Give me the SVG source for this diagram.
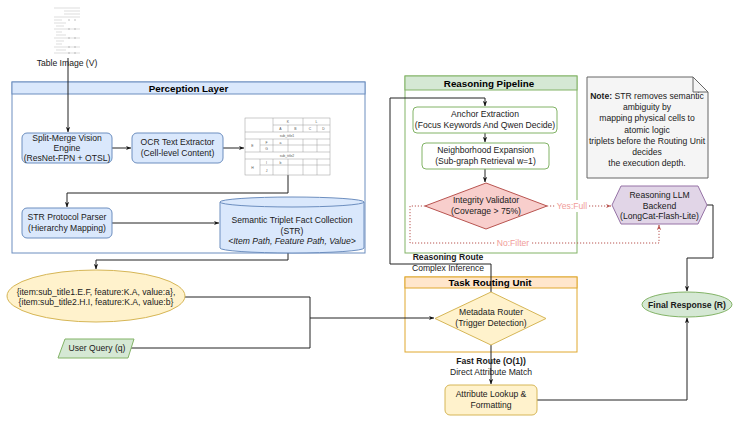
<svg xmlns="http://www.w3.org/2000/svg" width="739" height="422" viewBox="0 0 739 422">
<style>
.t{font-family:"Liberation Sans",Arial,sans-serif;font-size:8.6px;fill:#1a1a1a;text-anchor:middle}
.b{font-weight:bold}
.h{font-family:"Liberation Sans",Arial,sans-serif;font-size:9.8px;font-weight:bold;fill:#000;text-anchor:middle}
.i{font-style:italic}
.blue{fill:#dae8fc;stroke:#6c8ebf;stroke-width:1}
.green{fill:#d5e8d4;stroke:#82b366;stroke-width:1}
.gbox{fill:#fff;stroke:#82b366;stroke-width:1}
.yel{fill:#fff2cc;stroke:#d6b656;stroke-width:1}
.red{fill:#f8cecc;stroke:#b85450;stroke-width:1}
.pur{fill:#e1d5e7;stroke:#9673a6;stroke-width:1}
.c{fill:none;stroke:#222;stroke-width:1}
.cr{fill:none;stroke:#b85450;stroke-width:1;stroke-dasharray:1.2 1.8}
.lr{font-family:"Liberation Sans",Arial,sans-serif;font-size:8.6px;fill:#f19c99;text-anchor:middle}
.tb{fill:none;stroke:#999;stroke-width:0.5}
.tt{font-family:"Liberation Sans",Arial,sans-serif;font-size:3.4px;fill:#555;text-anchor:middle}
</style>
<defs>
<marker id="a" viewBox="0 0 10 10" refX="9.5" refY="5" markerWidth="5.5" markerHeight="5.5" orient="auto"><path d="M0,1 L10,5 L0,9 L3,5 Z" fill="#111"/></marker>
<marker id="ar" viewBox="0 0 10 10" refX="9.5" refY="5" markerWidth="5.5" markerHeight="5.5" orient="auto"><path d="M0,1 L10,5 L0,9 L3,5 Z" fill="#b85450"/></marker>
</defs>

<!-- containers -->
<g id="perception-layer">
<rect x="12" y="82" width="353" height="171" fill="#fff" stroke="#6c8ebf"/>
<rect x="12" y="82" width="353" height="12" fill="#dae8fc" stroke="#6c8ebf"/>
<text class="h" x="188.5" y="91.5">Perception Layer</text>
</g>
<g id="reasoning-pipeline">
<rect x="405" y="76" width="172" height="177" fill="#fff" stroke="#82b366"/>
<rect x="405" y="76" width="172" height="14" fill="#d5e8d4" stroke="#82b366"/>
<text class="h" x="489" y="86.5">Reasoning Pipeline</text>
</g>
<g id="task-routing-unit">
<rect x="405" y="277" width="172" height="75" fill="#fff" stroke="#e0a82e"/>
<rect x="405" y="277" width="172" height="11" fill="#ffe6cc" stroke="#e0a82e"/>
<text class="h" x="490" y="286">Task Routing Unit</text>
</g>

<!-- connectors -->
<g id="connectors">
<path class="c" d="M68,58 V132" marker-end="url(#a)"/>
<path class="c" d="M112,148 H131" marker-end="url(#a)"/>
<path class="c" d="M223,148 H244" marker-end="url(#a)"/>
<path class="c" d="M288,175 V193 H67 V207" marker-end="url(#a)"/>
<path class="c" d="M112,223 H219" marker-end="url(#a)"/>
<path class="c" d="M288,253 V260 H96 V269" marker-end="url(#a)"/>
<path class="c" d="M185,297 H310 V348 H131"/>
<path class="c" d="M310,318 H434" marker-end="url(#a)"/>
<path class="c" d="M491,292 V264 H390 V98 H485 V106" marker-end="url(#a)"/>
<path class="c" d="M485,133 V142" marker-end="url(#a)"/>
<path class="c" d="M485,169 V182" marker-end="url(#a)"/>
<path class="cr" d="M547,206 H611" marker-end="url(#ar)"/>
<path class="cr" d="M425,206 H410 V243 H659 V225" marker-end="url(#ar)"/>
<path class="c" d="M707,205 H713 V258 H687 V291" marker-end="url(#a)"/>
<path class="c" d="M537,400 H687 V318" marker-end="url(#a)"/>
<path class="c" d="M491,345 V384" marker-end="url(#a)"/>
<rect x="556" y="200" width="33" height="12" fill="#fff"/>
<text class="lr" x="572" y="209">Yes:Full</text>
<rect x="496" y="237" width="35" height="12" fill="#fff"/>
<text class="lr" x="513" y="246">No:Filter</text>
<text class="t b" x="448" y="260">Reasoning Route</text>
<text class="t" x="448" y="271">Complex Inference</text>
<text class="t b" x="491" y="364">Fast Route (O(1))</text>
<text class="t" x="491" y="375">Direct Attribute Match</text>
</g>

<!-- nodes -->
<g id="table-image-v">
<rect x="52" y="6" width="29" height="49" fill="#fff"/>
<g stroke="#c8c8c8" stroke-width="0.6">
<path d="M54,8 H80 M64,11 H80 M64,14 H80 M54,17 H80 M54,20 H62 M54,23 H66 M56,26 H64 M54,29 H80 M56,32 H62 M56,35 H66 M54,38 H80 M56,41 H64 M56,44 H62 M54,47 H80 M56,50 H66 M54,53 H80"/>
<path d="M68,20 H70 M74,20 H76 M68,29 H70 M74,29 H76 M68,38 H70 M74,38 H76 M68,47 H70 M74,47 H76 M68,53 H70 M74,53 H76" stroke="#999"/>
</g>
<text class="t" x="67" y="66">Table Image (V)</text>
</g>

<g id="split-merge">
<rect class="blue" x="22" y="133" width="90" height="30" rx="5"/>
<text class="t" x="67" y="140.5">Split-Merge Vision</text>
<text class="t" x="67" y="150.5">Engine</text>
<text class="t" x="67" y="160.5">(ResNet-FPN + OTSL)</text>
</g>
<g id="ocr">
<rect class="blue" x="132" y="133" width="91" height="30" rx="5"/>
<text class="t" x="177.5" y="145">OCR Text Extractor</text>
<text class="t" x="177.5" y="156">(Cell-level Content)</text>
</g>

<g id="table-grid">
<rect x="245" y="118" width="85" height="57" fill="#fff" stroke="#999" stroke-width="0.5"/>
<path class="tb" d="M273,125 H330 M245,132 H330 M245,139 H330 M260,145 H330 M245,152 H330 M245,159 H330 M260,165 H330"/>
<path class="tb" d="M273,118 V132 M273,139 V152 M273,159 V175 M288,125 V132 M288,139 V152 M288,159 V175 M303,118 V132 M303,139 V152 M303,159 V175 M317,125 V132 M317,139 V152 M317,159 V175 M260,139 V152 M260,159 V175"/>
<text class="tt" x="288" y="123">K</text>
<text class="tt" x="316.5" y="123">L</text>
<text class="tt" x="280.5" y="130">A</text>
<text class="tt" x="295.5" y="130">B</text>
<text class="tt" x="310" y="130">C</text>
<text class="tt" x="323.5" y="130">D</text>
<text class="tt" x="287" y="137">sub_title1</text>
<text class="tt" x="252.5" y="147">E</text>
<text class="tt" x="266.5" y="143.5">F</text>
<text class="tt" x="266.5" y="150">G</text>
<text class="tt" x="280.5" y="143.5">a</text>
<text class="tt" x="287" y="157">sub_title2</text>
<text class="tt" x="252.5" y="168.5">H</text>
<text class="tt" x="266.5" y="163.5">I</text>
<text class="tt" x="266.5" y="171.5">J</text>
<text class="tt" x="280.5" y="163.5">b</text>
</g>

<g id="str-parser">
<rect class="blue" x="22" y="208" width="90" height="30" rx="5"/>
<text class="t" x="67" y="220">STR Protocol Parser</text>
<text class="t" x="67" y="231">(Hierarchy Mapping)</text>
</g>

<g id="str-collection">
<path class="blue" d="M220,202 A72,5 0 0,1 364,202 V248 A72,5 0 0,1 220,248 Z"/>
<path d="M220,202 A72,5 0 0,0 364,202" fill="none" stroke="#6c8ebf"/>
<text class="t" x="292" y="223">Semantic Triplet Fact Collection</text>
<text class="t" x="292" y="233.5">(STR)</text>
<text class="t i" x="292" y="244">&lt;Item Path, Feature Path, Value&gt;</text>
</g>

<g id="triplets">
<ellipse class="yel" cx="96" cy="296" rx="89" ry="26"/>
<text class="t" x="96" y="294.5">{item:sub_title1.E.F, feature:K.A, value:a},</text>
<text class="t" x="96" y="305">{item:sub_title2.H.I, feature:K.A, value:b}</text>
</g>

<g id="user-query">
<polygon class="green" points="65,339 134,339 128,358 58,358"/>
<text class="t" x="97" y="351">User Query (q)</text>
</g>

<g id="anchor-extraction">
<rect class="gbox" x="413" y="107" width="144" height="26" rx="4"/>
<text class="t" x="485" y="117">Anchor Extraction</text>
<text class="t" x="485" y="128">(Focus Keywords And Qwen Decide)</text>
</g>
<g id="neighborhood-expansion">
<rect class="gbox" x="422" y="143" width="127" height="26" rx="4"/>
<text class="t" x="485.5" y="153">Neighborhood Expansion</text>
<text class="t" x="485.5" y="164">(Sub-graph Retrieval w=1)</text>
</g>
<g id="integrity-validator">
<polygon class="red" points="486,183 547,206 486,229 425,206"/>
<text class="t" x="486" y="203">Integrity Validator</text>
<text class="t" x="486" y="214">(Coverage &gt; 75%)</text>
</g>

<g id="note">
<path d="M587,77 H693 L708,92 V178 H587 Z" fill="#f5f5f5" stroke="#666"/>
<path d="M693,77 V92 H708" fill="none" stroke="#666"/>
<text class="t" x="647" y="99"><tspan class="b">Note:</tspan> STR removes semantic</text>
<text class="t" x="647" y="110">ambiguity by</text>
<text class="t" x="647" y="121">mapping physical cells to</text>
<text class="t" x="647" y="132.5">atomic logic</text>
<text class="t" x="647" y="143.5">triplets before the Routing Unit</text>
<text class="t" x="647" y="155">decides</text>
<text class="t" x="647" y="166">the execution depth.</text>
</g>

<g id="llm-backend">
<polygon class="pur" points="621,186 698,186 707,205 698,224 621,224 612,205"/>
<text class="t" x="659.5" y="198">Reasoning LLM</text>
<text class="t" x="659.5" y="208.5">Backend</text>
<text class="t" x="659.5" y="219">(LongCat-Flash-Lite)</text>
</g>

<g id="metadata-router">
<polygon class="yel" points="491,292 546,318.5 491,345 435,318.5"/>
<text class="t" x="491" y="315">Metadata Router</text>
<text class="t" x="491" y="325.5">(Trigger Detection)</text>
</g>

<g id="attribute-lookup">
<rect class="yel" x="445" y="385" width="92" height="30" rx="5"/>
<text class="t" x="491" y="397">Attribute Lookup &amp;</text>
<text class="t" x="491" y="407.5">Formatting</text>
</g>

<g id="final-response">
<ellipse class="green" cx="687" cy="304.5" rx="45" ry="12.5"/>
<text class="t b" x="687" y="307.5">Final Response (R)</text>
</g>
</svg>
